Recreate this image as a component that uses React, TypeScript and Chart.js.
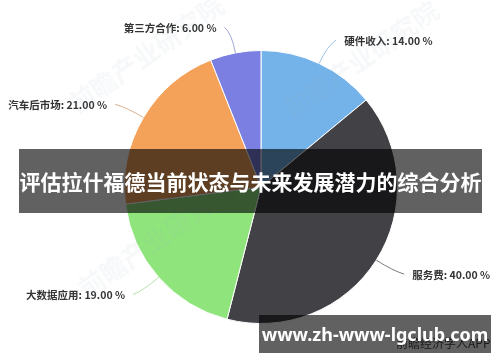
import React, { useEffect, useRef } from "react";
import { Chart, registerables } from "chart.js";

Chart.register(...registerables);

// Revenue structure shares (%), clockwise from 12 o'clock
const categories = ["硬件收入", "服务费", "大数据应用", "汽车后市场", "第三方合作"];
const shares = [14, 40, 19, 21, 6];
const sliceColors = ["#74b3ea", "#414146", "#8fe57c", "#f4a25a", "#7b7fe2"];
const leaderColors = ["#9cc3e6", "#7a7a80", "#b3e3a6", "#d9b48f", "#a3a5d8"];

const headline = "评估拉什福德当前状态与未来发展潜力的综合分析";
const siteUrl = "www.zh-www-lgclub.com";
const appTag = "前瞻经济学人APP";
const watermark = "前瞻产业研究院";

const W = 500;
const H = 362;

// Draws "name: value %" labels with curved leader lines outside each slice
const sliceLabels = {
  id: "sliceLabels",
  afterDatasetsDraw(chart: any) {
    const ctx = chart.ctx as CanvasRenderingContext2D;
    const meta = chart.getDatasetMeta(0);
    const values = chart.data.datasets[0].data as number[];
    meta.data.forEach((arc: any, i: number) => {
      const { x, y, startAngle, endAngle, outerRadius } = arc.getProps(
        ["x", "y", "startAngle", "endAngle", "outerRadius"],
        true
      );
      const mid = (startAngle + endAngle) / 2;
      const cos = Math.cos(mid);
      const sin = Math.sin(mid);
      const dir = cos >= 0 ? 1 : -1;
      const p0 = { x: x + cos * outerRadius, y: y + sin * outerRadius };
      const p1 = { x: x + cos * (outerRadius + 20), y: y + sin * (outerRadius + 20) };
      const p2 = { x: x + cos * (outerRadius + 26) + dir * 6, y: y + sin * (outerRadius + 26) };
      ctx.save();
      ctx.strokeStyle = leaderColors[i];
      ctx.lineWidth = 1;
      ctx.beginPath();
      ctx.moveTo(p0.x, p0.y);
      ctx.quadraticCurveTo(p1.x, p1.y, p2.x, p2.y);
      ctx.stroke();
      ctx.font = "bold 10.5px 'Noto Sans CJK SC', 'Noto Sans', sans-serif";
      ctx.fillStyle = "#333333";
      ctx.textBaseline = "middle";
      ctx.textAlign = dir > 0 ? "left" : "right";
      ctx.fillText(
        `${categories[i]}: ${Number(values[i]).toFixed(2)} %`,
        p2.x + dir * 8,
        p2.y + 1
      );
      ctx.restore();
    });
  },
};

export default function App() {
  const canvasRef = useRef<HTMLCanvasElement | null>(null);

  useEffect(() => {
    if (!canvasRef.current) return;
    const chart = new Chart(canvasRef.current, {
      type: "pie",
      data: {
        labels: categories,
        datasets: [
          {
            data: shares,
            backgroundColor: sliceColors,
            borderColor: "#ffffff",
            borderWidth: 1,
          },
        ],
      },
      options: {
        responsive: false,
        animation: false,
        events: [],
        layout: { padding: { left: 124, right: 102, top: 50, bottom: 38 } },
        plugins: {
          legend: { display: false },
          tooltip: { enabled: false },
        },
      },
      plugins: [sliceLabels],
    });
    return () => chart.destroy();
  }, []);

  const mark = (left: number, top: number) => (
    <div
      style={{
        position: "absolute",
        left,
        top,
        transform: "rotate(-35deg)",
        transformOrigin: "left top",
        fontFamily: "'Noto Sans CJK SC', sans-serif",
        fontWeight: 700,
        fontSize: 26,
        color: "rgba(160, 172, 190, 0.09)",
        whiteSpace: "nowrap",
        pointerEvents: "none",
      }}
    >
      {watermark}
    </div>
  );

  return (
    <div
      style={{
        position: "fixed",
        left: 0,
        top: 0,
        width: W,
        height: H,
        background: "#ffffff",
        overflow: "hidden",
      }}
    >
      <canvas ref={canvasRef} width={W} height={H} style={{ display: "block" }} />
      {mark(60, 90)}
      {mark(275, 95)}
      {mark(70, 275)}
      <div
        style={{
          position: "absolute",
          left: 396,
          top: 335,
          fontFamily: "'Noto Sans CJK SC', sans-serif",
          fontSize: 12,
          lineHeight: "16px",
          color: "#444444",
          whiteSpace: "nowrap",
        }}
      >
        {appTag}
      </div>
      <div
        style={{
          position: "absolute",
          left: 19,
          top: 149,
          width: 463,
          height: 64,
          background: "rgba(0, 0, 0, 0.62)",
          display: "flex",
          alignItems: "center",
          justifyContent: "center",
          color: "#ffffff",
          fontFamily: "'Noto Sans CJK SC', sans-serif",
          fontWeight: 700,
          fontSize: 21,
          whiteSpace: "nowrap",
        }}
      >
        {headline}
      </div>
      <div
        style={{
          position: "absolute",
          left: 259,
          top: 315,
          width: 232,
          height: 38,
          background: "rgba(0, 0, 0, 0.62)",
          display: "flex",
          alignItems: "center",
          justifyContent: "center",
          color: "#ffffff",
          fontFamily: "'Noto Sans', sans-serif",
          fontWeight: 700,
          fontSize: 18,
          whiteSpace: "nowrap",
        }}
      >
        {siteUrl}
      </div>
    </div>
  );
}
